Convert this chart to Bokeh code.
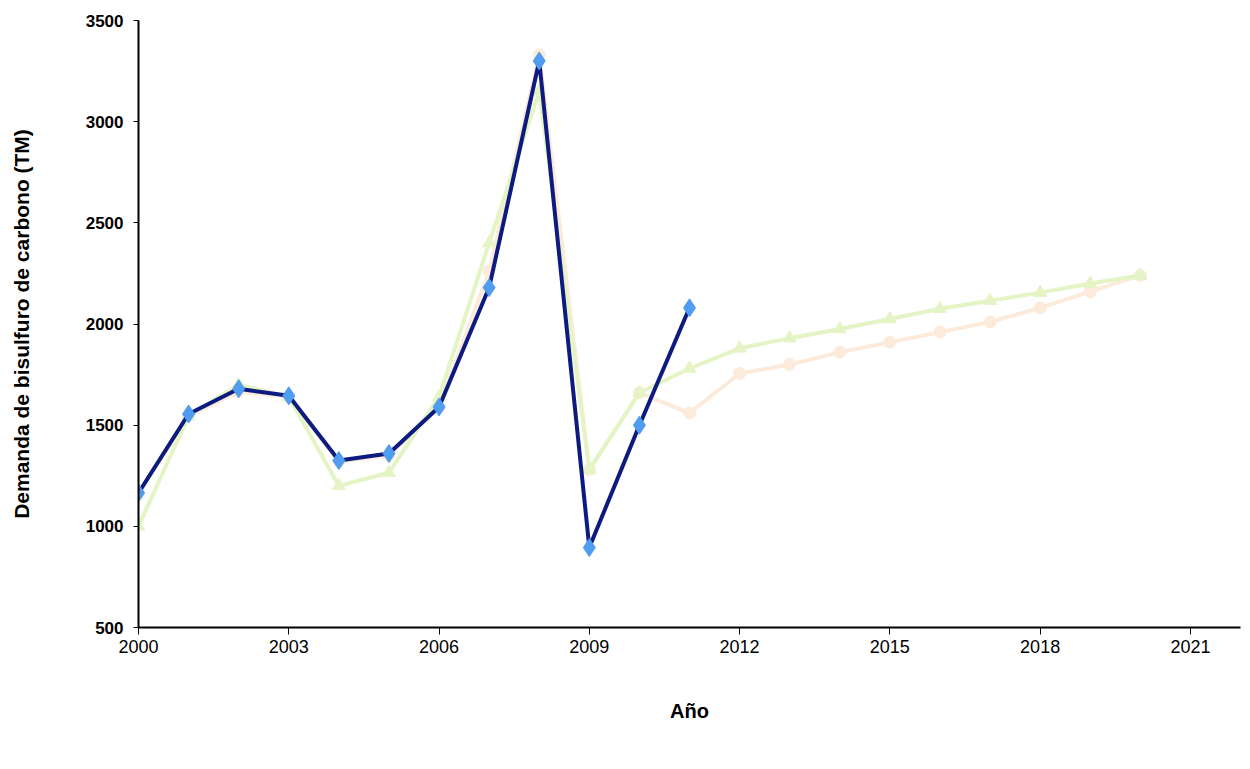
from bokeh.plotting import figure
from bokeh.models import FixedTicker, Legend, LegendItem, ColumnDataSource
from bokeh.embed import file_html
from bokeh.resources import INLINE

# ---- data ----
years_real = [2000, 2001, 2002, 2003, 2004, 2005, 2006, 2007, 2008, 2009, 2010, 2011]
demanda_real = [1165, 1555, 1680, 1645, 1325, 1360, 1590, 2180, 3300, 895, 1500, 2080]

years_model = list(range(2000, 2021))
modelo_1 = [1165, 1545, 1665, 1640, 1320, 1350, 1590, 2260, 3330, 1280, 1660, 1560,
            1755, 1800, 1860, 1910, 1960, 2010, 2080, 2160, 2240]
modelo_2 = [1000, 1545, 1700, 1640, 1200, 1265, 1640, 2400, 3150, 1280, 1660, 1780,
            1880, 1930, 1975, 2025, 2075, 2115, 2155, 2200, 2240]

x_ticks = [2000, 2003, 2006, 2009, 2012, 2015, 2018, 2021]
y_ticks = [500, 1000, 1500, 2000, 2500, 3000, 3500]

series_names = ["Demanda Real", "Demanda: Modelo 1", "Demanda: Modelo 2"]
x_title = "Año"
y_title = "Demanda de bisulfuro de carbono (TM)"

# ---- figure ----
p = figure(frame_width=1102, frame_height=607, x_range=(2000, 2022), y_range=(500, 3500),
           output_backend="svg", toolbar_location=None,
           min_border_left=138, min_border_right=10, min_border_top=20,
           min_border_bottom=0)
p.outline_line_color = None
p.xgrid.grid_line_color = None
p.ygrid.grid_line_color = None
p.background_fill_color = "white"
p.border_fill_color = "white"

src_r = ColumnDataSource(dict(x=years_real, y=demanda_real))
src_m = ColumnDataSource(dict(x=years_model, y1=modelo_1, y2=modelo_2))

c1 = "#fcebdb"
c2 = "#e4f4c4"
l1 = p.line("x", "y1", source=src_m, line_color=c1, line_width=4)
m1 = p.scatter("x", "y1", source=src_m, marker="circle", size=12,
               fill_color=c1, line_color=c1)
l2 = p.line("x", "y2", source=src_m, line_color=c2, line_width=4)
m2 = p.scatter("x", "y2", source=src_m, marker="triangle", size=13,
               fill_color=c2, line_color=c2)

lr = p.line("x", "y", source=src_r, line_color="#0d1b80", line_width=4)
mr = p.scatter("x", "y", source=src_r, marker="diamond", size=18,
               fill_color="#4f9cf0", line_color="#4f9cf0")

# ---- axes ----
xa = p.xaxis[0]
xa.ticker = FixedTicker(ticks=x_ticks, minor_ticks=list(range(2000, 2023)))
xa.axis_line_color = "black"
xa.axis_line_width = 2
xa.major_tick_out = 7
xa.major_tick_in = 0
xa.minor_tick_out = 0
xa.minor_tick_in = 0
xa.major_label_text_font = "Liberation Sans"
xa.major_label_text_font_size = "18px"
xa.major_label_text_color = "black"
xa.major_label_standoff = 5
xa.axis_label = x_title
xa.axis_label_text_font = "Liberation Sans"
xa.axis_label_text_font_style = "bold"
xa.axis_label_text_font_size = "20px"
xa.axis_label_text_color = "black"
xa.axis_label_standoff = 44

ya = p.yaxis[0]
ya.ticker = FixedTicker(ticks=y_ticks)
ya.axis_line_color = "black"
ya.axis_line_width = 2
ya.major_tick_out = 5
ya.major_tick_in = 0
ya.minor_tick_out = 0
ya.minor_tick_in = 0
ya.major_label_text_font = "Liberation Sans"
ya.major_label_text_font_style = "bold"
ya.major_label_text_font_size = "17px"
ya.major_label_text_color = "black"
ya.major_label_standoff = 10
ya.axis_label = y_title
ya.axis_label_text_font = "Liberation Sans"
ya.axis_label_text_font_style = "bold"
ya.axis_label_text_font_size = "21px"
ya.axis_label_text_color = "black"
ya.axis_label_standoff = 50

# ---- legend ----
legend = Legend(items=[
    LegendItem(label=series_names[0], renderers=[lr, mr]),
    LegendItem(label=series_names[1], renderers=[l1, m1]),
    LegendItem(label=series_names[2], renderers=[l2, m2]),
], orientation="horizontal", location="center")
legend.border_line_color = None
legend.background_fill_alpha = 0
legend.label_text_font = "Liberation Sans"
legend.label_text_font_size = "18px"
legend.label_text_color = "black"
legend.glyph_width = 50
legend.glyph_height = 18
legend.label_standoff = 4
legend.spacing = 100
legend.padding = 0
legend.margin = 8
p.add_layout(legend, "below")

open("out.html", "w").write(file_html(p, INLINE))
